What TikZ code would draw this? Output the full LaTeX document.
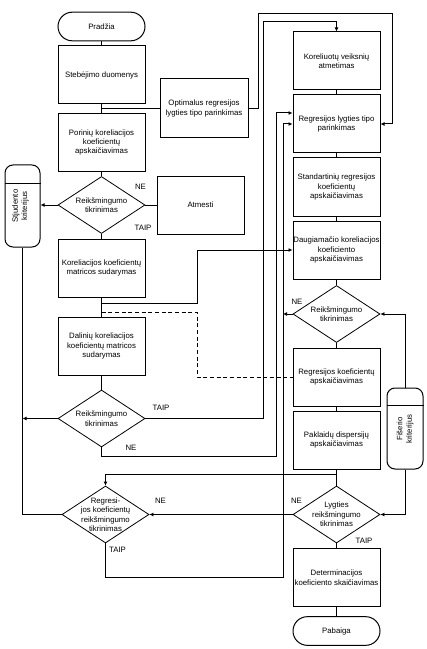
\documentclass[tikz,border=0pt]{standalone}
\usepackage{fontspec}
\setmainfont{Liberation Sans}
\usetikzlibrary{shapes.geometric,shapes.misc,arrows.meta,calc}
\begin{document}
\begin{tikzpicture}[x=0.75pt,y=-0.75pt,
  every node/.style={font=\fontsize{5.85pt}{7.1pt}\selectfont},
  box/.style={draw, line width=0.75pt, minimum width=65.25pt, minimum height=43.5pt, inner sep=0pt, align=center},
  term/.style={draw, rounded rectangle, line width=0.75pt, minimum width=65.25pt, minimum height=21.5pt, inner sep=0pt},
  dia/.style={draw, diamond, line width=0.6pt, minimum width=65.25pt, minimum height=42.75pt, inner sep=0pt},
  txt/.style={align=center, inner sep=0pt},
  lbl/.style={inner sep=0pt},
  vterm/.style={draw, rounded corners=6pt, line width=0.75pt, inner sep=0pt},
  conn/.style={line width=0.75pt},
  arr/.style={conn, -{Latex[length=3pt,width=3pt]}}]
\useasboundingbox (0,0) rectangle (427,649);

% left column
\node[term] (pr) at (101.5,26.5) {Pradžia};
\node[box] (st) at (101.5,75) {Stebėjimo duomenys};
\node[box, minimum width=66pt, minimum height=44.25pt] (op) at (204,108.5) {Optimalus regresijos\\lygties tipo parinkimas};
\node[box] (po) at (101.5,142.5) {Porinių koreliacijos\\koeficientų\\apskaičiavimas};
\node[dia] (d1) at (101.5,205) {};
\node[txt] (d1t) at (d1) {Reikšmingumo\\tikrinimas};
\node[box] (at) at (200.5,205) {Atmesti};
\node[box] (ko) at (101.5,268) {Koreliacijos koeficientų\\matricos sudarymas};
\node[box] (da) at (101.5,346) {Dalinių koreliacijos\\koeficientų matricos\\sudarymas};
\node[dia] (d2) at (101.5,418.5) {};
\node[txt] (d2t) at (d2) {Reikšmingumo\\tikrinimas};
\node[dia] (d5) at (105.5,514.5) {};
\node[txt] (d5t) at (d5) {Regresi-\\jos koeficientų\\reikšmingumo\\tikrinimas};
\node[vterm, minimum width=26.25pt, minimum height=61.5pt] (stj) at (22.5,206) {};
\node[txt, rotate=90] (stjt) at (20.5,206) {Stjudento\\kriterijus};
\draw[conn] ($(stj.north west)+(0,19)$) -- ($(stj.north east)+(0,19)$);

% right column
\node[box] (kv) at (336.5,61) {Koreliuotų veiksnių\\atmetimas};
\node[box] (rl) at (336.5,124) {Regresijos lygties tipo\\parinkimas};
\node[box] (sr) at (336.5,187) {Standartinių regresijos\\koeficientų\\apskaičiavimas};
\node[box] (dg) at (336.5,250) {Daugiamačio koreliacijos\\koeficiento\\apskaičiavimas};
\node[dia] (d3) at (336.5,314) {};
\node[txt] (d3t) at (d3) {Reikšmingumo\\tikrinimas};
\node[box] (rk) at (336.5,377) {Regresijos koeficientų\\apskaičiavimas};
\node[box] (pk) at (336.5,440) {Paklaidų dispersijų\\apskaičiavimas};
\node[dia] (d4) at (336.5,514.5) {};
\node[txt] (d4t) at (d4) {Lygties\\reikšmingumo\\tikrinimas};
\node[box] (de) at (336.5,577.5) {Determinacijos\\koeficiento skaičiavimas};
\node[term] (pb) at (336.5,631) {Pabaiga};
\node[vterm, minimum width=27pt, minimum height=60.75pt] (fi) at (405,428.5) {};
\node[txt, rotate=90] (fit) at (405,429) {Fišerio\\kriterijus};
\draw[conn] ($(fi.north west)+(0,18)$) -- ($(fi.north east)+(0,18)$);

% labels
\node[lbl] (ne1) at (140.5,187) {NE};
\node[lbl] (ta1) at (143,228) {TAIP};
\node[lbl] (ta2) at (161,408) {TAIP};
\node[lbl] (ne2) at (131,448) {NE};
\node[lbl] (ne3) at (297,302) {NE};
\node[lbl] (ne4) at (160.5,501) {NE};
\node[lbl] (ne5) at (296.5,501) {NE};
\node[lbl] (ta3) at (117.5,550) {TAIP};
\node[lbl] (ta4) at (364,541) {TAIP};

% coordinates
\coordinate (c1) at (258,14);
\coordinate (c2) at (392,14);
\coordinate (c3) at (197,303);
\coordinate (c4) at (197,312);
\coordinate (c5) at (263,22);
\coordinate (c6) at (276,456);
\coordinate (c7) at (283,577);

% left column flow
\draw[conn] (pr.south) -- (st.north);
\draw[conn] (st.south) -- (po.north);
\draw[conn] (st.south |- op.west) -- (op.west);
\draw[arr] (op.east) -| (c1) -- (c2) |- (rl.east);
\draw[conn] (po.south) -- (d1.north);
\draw[conn] (d1.east) -- (at.west);
\draw[arr] (d1.west) -- (d1.west -| stj.east);
\draw[conn] (d1.south) -- (ko.north);
\draw[conn] (ko.south) -- (da.north);
\draw[arr] (ko.south |- c3) -- (c3) |- (dg.west);
\draw[conn, dash pattern=on 3pt off 2pt] (ko.south |- c4) -- (c4) |- (rk.west);
\draw[conn] (da.south) -- (d2.north);
\draw[arr] (d2.west) -- (d2.west -| stj.south);
\draw[conn] (stj.south) |- (d5.west);
\draw[arr] (d2.east) -| (c5) -| (kv.north);
\draw[arr] (d2.south) |- (c6) |- ($(rl.west)+(0,-11)$);
\draw[arr] (d5.south) |- (c7) |- (rl.west);

% right column flow
\draw[conn] (kv.south) -- (rl.north);
\draw[conn] (rl.south) -- (sr.north);
\draw[conn] (sr.south) -- (dg.north);
\draw[conn] (dg.south) -- (d3.north);
\draw[conn] (d3.south) -- (rk.north);
\draw[conn] (rk.south) -- (pk.north);
\draw[conn] (pk.south) -- (d4.north);
\draw[conn] (d4.south) -- (de.north);
\draw[conn] (de.south) -- (pb.north);
\draw[arr] (d3.west) -- (d3.west -| c7);
\draw[arr] (fi.north) |- (d3.east);
\draw[arr] (fi.south) |- (d4.east);
\draw[arr] (d4.west) -- (d5.east);
\draw[arr] ($(pk.south)+(0,5)$) -| (d5.north);
\end{tikzpicture}
\end{document}
